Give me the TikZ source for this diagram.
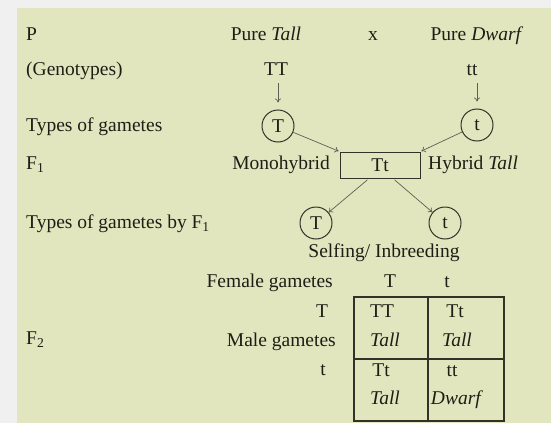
\documentclass[tikz,border=0pt]{standalone}
\usepackage{fontspec}
\setmainfont{Liberation Serif}
\usetikzlibrary{arrows.meta}
\definecolor{bggray}{RGB}{240,240,240}
\definecolor{panel}{RGB}{225,230,190}
\definecolor{ink}{RGB}{30,30,22}
\definecolor{linec}{RGB}{50,50,40}
\definecolor{arrowc}{RGB}{95,95,85}
\begin{document}
\begin{tikzpicture}[x=1pt,y=-1pt,
  lbl/.style={anchor=base, inner sep=0pt, text=ink, font=\fontsize{19.5}{22}\selectfont},
  lblw/.style={lbl, anchor=base west},
  lble/.style={lbl, anchor=base east},
  gam/.style={circle, draw=linec, line width=1pt, minimum size=32pt, inner sep=0pt, text=ink, font=\fontsize{19.5}{22}\selectfont},
  fbox/.style={draw=linec, line width=1pt, minimum width=80pt, minimum height=26pt, inner sep=0pt, text=ink, font=\fontsize{19.5}{22}\selectfont},
  arr/.style={draw=arrowc, line width=0.7pt, -{To[length=4pt,width=6pt]}},
  gridl/.style={draw=linec, line width=1.1pt}
]
\useasboundingbox (0,0) rectangle (551,423);
\fill[bggray] (0,0) rectangle (551,423);
\fill[panel] (17,8) rectangle (551,423);

% Row P
\node[lblw] (p) at (26,40) {P};
\node[lbl] (puretall) at (266,40) {Pure \textit{Tall}};
\node[lbl] (cross) at (373,40) {x};
\node[lbl] (puredwarf) at (477,40) {Pure \textit{Dwarf}};

% Genotypes
\node[lblw] (geno) at (26,75) {(Genotypes)};
\node[lbl] (TT) at (276,75) {TT};
\node[lbl] (tt) at (472,75) {tt};

% gametes
\node[lblw] (types) at (26,131) {Types of gametes};
\node[gam] (cT) at (278,126) {T};
\node[gam] (ct) at (477,125) {t};

% F1
\node[lblw] (f1) at (26,169) {F\textsubscript{1}};
\node[fbox] (box) at (380,165) {Tt};
\node[lble] (mono) at (330,169) {Monohybrid};
\node[lblw] (hyb) at (428,169) {Hybrid \textit{Tall}};

% gametes by F1
\node[lblw] (typesf1) at (26,228) {Types of gametes by F\textsubscript{1}};
\node[gam] (cT2) at (316,223) {T};
\node[gam] (ct2) at (445,223) {t};
\node[lbl] (self) at (384,257) {Selfing/ Inbreeding};

% Punnett
\node[lble] (female) at (333,287) {Female gametes};
\node[lbl] (fT) at (390,287) {T};
\node[lbl] (ft) at (447,287) {t};
\node[lbl] (mT) at (322,317) {T};
\node[lble] (male) at (336,346) {Male gametes};
\node[lbl] (mt) at (323,375) {t};
\node[lblw] (f2) at (26,344) {F\textsubscript{2}};

\coordinate (g1) at (354,297);
\coordinate (g2) at (504,421);
\draw[gridl] (g1) rectangle (g2);
\draw[gridl] (428,297) -- (428,421);
\draw[gridl] (354,359) -- (504,359);

\node[lbl] (c11) at (382,317) {TT};
\node[lbl] (c11b) at (385,346) {\textit{Tall}};
\node[lbl] (c12) at (455,317) {Tt};
\node[lbl] (c12b) at (457,346) {\textit{Tall}};
\node[lbl] (c21) at (381,376) {Tt};
\node[lbl] (c21b) at (385,404) {\textit{Tall}};
\node[lbl] (c22) at (452,376) {tt};
\node[lbl] (c22b) at (457,404) {\textit{Dwarf}};

% arrows
\draw[arr, shorten <=8pt, shorten >=7pt] (cT|-TT.south) -- (cT.north);
\draw[arr, shorten <=8pt, shorten >=7pt] (ct|-tt.south) -- (ct.north);
\draw[arr, shorten >=1pt] (cT) -- (box.north west);
\draw[arr, shorten >=1pt] (ct) -- (box.north east);
\draw[arr, shorten <=2pt] ([xshift=-11pt]box.south) -- (cT2);
\draw[arr, shorten <=2pt] ([xshift=13pt]box.south) -- (ct2);
\end{tikzpicture}
\end{document}
